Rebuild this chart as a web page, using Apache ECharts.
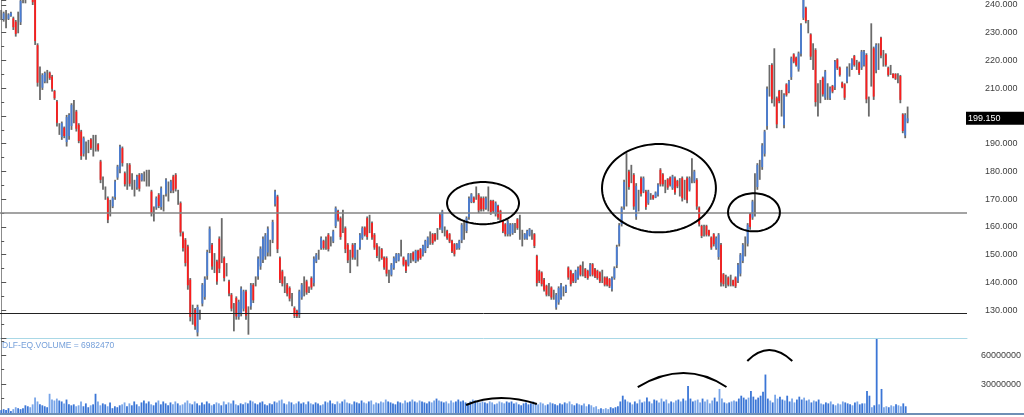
<!DOCTYPE html>
<html><head><meta charset="utf-8">
<script src="https://cdn.jsdelivr.net/npm/echarts@6/dist/echarts.min.js"></script>
<style>html,body{margin:0;padding:0;background:#fff;}#c{width:1024px;height:417px;}</style>
</head><body><div id="c"></div>
<script>
// ---- data (one entry per trading day) ----
const opens = [
236.4,234.8,235,235,236,235.2,234,233.8,233.8,242.8,
242.3,243,246.5,244.5,242,225.5,211.8,210.2,212.4,214.2,
215.6,214.2,209,205.2,195.3,192.4,195.8,190.6,192.8,196.4,
201.6,201.6,196.8,194.4,186.4,187.5,189,191.6,189.3,190.2,189.8,
183.6,175.8,172.2,170.4,166.8,167.4,170.8,177.8,180.8,188.4,
179.4,178.2,182.4,176.4,174,174.2,178.8,176.8,178.2,177.6,
177.6,172.8,164.7,167,171.6,167.2,168.6,172,172.8,173,
178.2,178.8,170.7,168.6,157.8,155.4,153,141,128.4,130.2,122,
128.4,132.4,134.8,142.4,151.8,153.6,147,147.6,155.8,155,148.8,
144.6,140.4,135.6,127.5,134.4,127.6,129,130.6,136.8,126.3,
131.4,139.2,140.4,142.2,145.8,148.2,149.4,150.8,152.4,155.4,
168.2,171,148.8,144,139.2,139.2,138,133.8,130.8,129.8,
128.4,134.6,138.6,140.4,137.4,141.6,139.8,147.6,150,152.4,
155,154.2,157.2,154.8,154.8,160.4,165.8,163.2,162,159.6,
153.6,147.6,153.6,149,148.8,152.6,156,159.8,163.2,161.1,
161.4,157.2,153.6,150.3,152,149,148.8,142.2,142.8,145.2,
147.6,148,152.4,149,147.6,146.4,148.8,150.8,147.6,151.4,
152,150,151.4,153,156,157.4,157.4,157.5,164.4,158.8,
158.4,158.6,157.4,155,153.8,152.2,152.4,155.2,159,158.6,
163.6,169,170.6,172.2,171.6,170.4,170.4,166.8,170.1,169.4,
169.4,164.6,167.6,165.8,162.2,161,157.4,157.4,157.8,159.6,
162.8,159.9,156,155.8,155.8,157,157.2,157.4,149.6,144.2,
143.6,141,138.8,137.4,138.2,135.6,131,132.8,134.6,136.8,136.6,
145.4,144.2,143,140.4,141.6,146,144.9,144.8,144.2,142.8,
146.6,144.8,144.2,143.6,142.2,141.8,141.8,141.2,137.6,141.6,
146.2,154,161,167.4,177,180,179.1,178.8,163.8,169.5,
177.6,172.8,172.8,168.6,171,171.4,170.6,171.6,180.6,179,
174.6,177.2,177.8,174,177.6,176.6,174.3,177.6,173.4,177.6,
173.4,180.3,176.4,177,167,160.4,158.7,160.4,158.8,156.2,
157.4,152.4,149.2,153.6,143,140.4,141.8,140.7,140.8,141.8,
140.6,143.2,147.8,153,154,164.6,163.4,171.6,174.4,180.6,
181.6,186.4,196.4,212.7,218.4,213.9,206.4,209,204.6,
196.8,211.4,208.8,214,222.2,221,216.8,222.4,235.4,239,
232.2,229.4,221.4,223.8,205.8,208.8,213.8,206.6,208.8,206.4,
210.8,210.4,220.4,217.4,212,211.4,212.4,216.6,217,
221.6,218.4,219.2,217.4,218.4,222,203.4,222,224.4,
216.4,221.4,228.2,220.8,222.2,217.4,216.6,215.2,215.2,
213.6,214.4,200.6,193,198];
const highs = [
238.2,237.6,238.2,237,237.6,235.8,234.6,237.6,242.5,245,
244,246,247,245,243,226.2,217.8,215.4,216,216.6,
216,214.8,209.4,205.8,197.4,198,196.2,200.4,201,204.6,
205.8,202.2,197.4,195,192.6,190.8,191.4,192,193.2,193.2,190.2,
184.2,178.2,174.6,171,169.8,171,177,182.4,189.6,189,
180,183,183,179.4,177,178.8,179.4,179.4,180,180.6,
180.6,173.4,167.4,171,172.2,174.6,171.6,177.6,176.4,177,
178.8,179.4,173.4,169.2,158.4,156,153.6,141.6,132,130.8,132,
130.2,139.8,142.2,151.8,160.2,154.2,150.6,148.2,156.6,163.2,149.4,
147,141,136.2,132.6,135,133.8,138.6,137.4,137.4,131.4,
139.8,139.8,142.2,149.4,153,156.6,157.8,160.2,155.4,162.6,
173.4,171.6,149.4,144.6,142.2,139.8,138.6,136.2,131.4,130.2,
137.4,139.8,142.2,141,138.6,142.2,149.4,150.6,151.8,156.6,
155.4,156.6,157.8,156.6,159,167.4,166.2,163.8,166.2,160.2,
154.2,151.8,154.2,154.2,151.8,157.8,160.2,160.2,163.8,164.4,
162,157.8,154.2,153,152.4,149.4,149.4,144.6,147,149.4,
150.6,150.6,155.4,149.4,148.2,150.6,150.6,151.2,151.8,151.8,
152.4,153.6,155.4,156.6,158.4,157.8,157.8,159.6,165,166.2,
160.2,159,157.8,155.4,154.2,154.2,155.4,161.4,162.6,163.8,
171,172.2,171,174.6,172.2,171,171,171,174.6,169.8,
169.8,169.2,168,166.2,162.6,161.4,162.6,161.4,161.4,161.4,
163.2,164.4,159,157.8,159,159.6,159,157.8,150,144.6,
144,141.6,139.2,139.8,138.6,137.4,136.2,138.6,139.8,138.6,139.2,
145.8,144.6,143.4,144.6,145.8,146.4,147.6,145.2,144.6,147,
147,145.2,144.6,144,144.6,142.2,142.2,141.6,142.2,145.8,
153.6,161.4,167.4,177,186.6,180.6,182.4,179.4,175.8,173.4,
178.2,178.2,173.4,173.4,172.2,171.6,172.8,175.8,181.2,179.4,
177,177.6,178.2,178.8,178.2,177,177.6,178.2,177,178.2,
178.2,184.8,180.6,177.6,167.4,160.8,160.8,160.8,159,156.6,
157.8,156.6,157.8,154.2,143.4,142.8,142.2,142.8,141,142.2,
147,150.6,154.2,156.6,161.4,165,169.8,179.4,183,184.2,
190.2,195,210.6,218.4,219,224.4,207,209.4,209.4,
208.2,211.8,213,221.4,222.6,221.4,223.2,233.4,243,239.4,
234.6,229.8,226.2,224.4,211.8,213,214.2,216.6,211.8,210.6,
211.2,220.2,220.8,217.8,212.4,211.8,217.8,219,220.8,
222,220.2,219.6,223.8,223.8,222.6,207,233.4,225,
226.2,226.2,228.6,223.8,222.6,217.8,218.4,215.4,215.4,
215.4,214.8,201,201,203.4];
const lows = [
234.6,234,231.6,234.6,235.8,231,228.6,229.8,232.8,240.6,
240.6,242.5,243,240,225.6,210.6,205.8,209.4,211.8,211.8,
213,208.8,205.8,196.2,193.2,191.4,192,189,191.4,195,
197.4,194.4,190.2,184.2,185.4,184.2,186.6,187.8,185.4,187.2,187.2,
175.8,173.4,169.8,161.4,163.8,166.8,169.8,177,179.4,181.8,
174.6,173.4,174.6,173.4,171,173.4,172.8,176.4,176.4,174.6,
174.6,163.8,162,166.2,166.8,166.2,165.6,171,169.2,172.2,
172.2,172.8,168,156.6,151.2,145.8,137.4,126,124.8,123,120.6,
126.6,131.4,133.8,141,150.6,144.6,143.4,139.2,143.4,147,140.4,
142.2,135,129.6,122.4,126.6,126.6,127.8,129.6,126.6,121.2,
130.2,132.6,138.6,141,144.6,147,148.2,149.4,149.4,154.2,
167.4,150.6,139.8,138.6,136.2,135,133.2,131.4,127.2,127.2,
127.2,133.8,135,135.6,136.2,137.4,138.6,147,148.2,151.8,
151.8,151.8,151.2,153,154.2,159.6,162,155.4,157.8,150.6,
147,143.4,148.2,148.2,145.8,151.8,155.4,156.6,155.4,157.8,
155.4,151.8,148.8,147.6,148.2,144.6,142.2,139.8,142.2,144.6,
147,147.6,149.4,145.8,143.4,145.8,147,147.6,147,147.6,
148.2,149.4,150.6,152.4,153.6,153.6,154.8,155.4,159,157.8,
156.6,155.4,154.2,150.6,149.4,151.8,151.8,154.2,155.4,157.8,
162.6,168.6,168.6,169.8,165,165.6,165.6,166.2,165.6,164.4,
165,163.8,162.6,162,157.8,156.6,156.6,156.6,157.2,157.8,
159,155.4,153,155.4,155.4,156.6,155.4,152.4,138.6,139.8,
138.6,136.8,135,135,133.8,133.8,130.2,132,133.8,135,136.2,
141,138.6,139.8,139.8,141,142.2,142.2,141.6,141,142.2,
142.2,141.6,141,139.8,139.8,138.6,138.6,138,136.8,141,
145.2,153,160.2,166.2,167.4,173.4,175.8,166.2,162.6,165.6,
171,172.2,166.2,168,169.8,169.8,170.4,171,174.6,174.6,
172.2,173.4,174.6,173.4,171.6,174,171,169.2,169.8,168.6,
172.8,175.8,175.8,166.2,160.2,156,156.6,156.6,156.6,151.8,
153,151.8,148.2,138.6,138.6,138,138.6,138.6,138.6,138,
139.8,142.2,147,149.4,153,159,162.6,163.8,173.4,177,
180.6,185.4,195,207,204.6,203.4,195.6,204.6,199.8,
195.6,207,208.2,213,219,217.8,216,221.4,234.6,233.4,
229.8,220.2,216.6,203.4,199.8,204.6,207,205.8,205.8,205.8,
208.2,209.4,216.6,214.2,210,205.8,211.8,214.2,216.6,
217.8,216.6,214.8,216.6,217.8,204.6,199.8,210.6,205.8,
215.4,216.6,220.8,217.8,217.8,214.2,214.8,213.6,213,
211.8,204.6,193.8,192,197.4];
const closes = [
236.4,237,235,236.6,237.2,232,229.6,233.8,241.5,242.8,
242.3,245.5,243.8,241,227,212,211.8,214.8,215.5,214.2,
213.6,209.8,206.4,197.6,195.3,197.4,192.8,199.6,200.4,204,
201.6,195.4,191,185.6,192,187.5,189,188.4,189.3,190.2,187.8,
177,175.8,172.2,162.6,166.8,170.4,176.4,181.8,189,183,
175.4,178.2,175.6,176.4,174,178.2,173.8,179,178.2,177.6,
177.6,165,164.7,170.4,167.6,174,168.6,177,172.8,176.4,
173.2,173.8,170.7,158,152.4,147,139,127.6,128.4,124.2,131.2,
128.4,139.2,141.4,151,159.4,145.8,147,140.4,145,155,141.6,
144.6,136,130.6,127.5,127.8,133,137.8,136.8,128,126.3,
139,133.6,140.4,148.6,152.2,155.8,157,159.4,152.4,161.8,
172.8,152,141,139.6,139.2,136,134.2,133.8,128,127.8,
136.8,139.2,138.6,136.4,137.4,138.2,148.6,150,150,156,
152.4,154.2,152,154.8,158.4,166.8,162.6,156.4,162,152,
148,147.6,149,153.6,148.8,157.2,159.6,157.2,156.4,161.1,
156.2,152.6,149.6,150.3,148.8,145.4,143.2,142.2,146.4,148.8,
150.2,150.2,152.4,146.4,144.2,150.2,148.8,148.2,151.4,148.2,
148.8,153.2,155,156.2,156,154.2,155.2,157.5,159.8,165.6,
158.4,156,154.8,151.2,150.2,153.8,155,160.8,159,163.2,
170.4,171.8,169,172.2,166,166.4,166.4,170.4,170.1,165.2,
165.8,168.6,163.4,162.6,158.4,157.4,162,160.8,161,159.6,
159.6,159.9,156,157.4,158.6,159.2,157.2,153.2,139.8,140.6,
139.4,137.4,135.6,137.4,134.6,135.6,135.6,138,139.2,136.8,138.8,
141.8,139.4,140.4,144,145.2,142.8,144.9,142.2,141.6,146.4,
142.8,142.2,141.6,140.4,142.2,139.2,139.2,138.6,141.6,145.2,
152.8,160.6,166.8,176.2,177,174.4,179.1,167.4,174.8,169.5,
172,177.6,167.2,172.8,171,170.2,172.4,175.2,175.4,175.4,
174.6,174.2,175.2,178.2,172.4,174.6,174.3,170.4,173.4,169.6,
177.6,180.3,180,167.4,161,156.8,158.7,157.2,157,152.6,
153.8,156,157.2,140,139.4,140.4,139.2,140.7,139,138.6,
146.4,150,153.6,153,160.8,160,169.2,171.6,182.4,180.6,
189.4,194.4,209.8,212.7,206,213.9,197,205.4,204.6,
207.6,207.6,212.6,220.8,219.6,218.4,222.6,232.8,241.8,234.2,
232.2,221.4,221.4,205,205.8,208.8,207.8,216,208.8,210,
208.8,219.6,217.2,214.8,210.4,206.6,217.2,216.6,220.4,
218.4,218.4,215.4,223.2,223.2,206,203.4,222,207,
225.6,221.4,221.8,220.8,218.4,214.8,216.6,213.8,213.4,
213.6,205.8,194.6,200.4,199.15];
// volume in millions of shares
const volumes = [
3,4,3,5,2,4,6,5,4,5, 8,7,6,9,16,12,9,8,7,6,
20,14,13,15,13,12,10,14,9,8, 9,7,8,12,7,10,6,8,9,20,
12,8,10,9,7,11,5,7,6,8, 9,11,7,10,8,12,9,7,11,13,
10,12,9,8,11,13,9,12,10,8, 11,9,12,10,8,9,11,13,10,9,
12,10,8,11,9,12,10,8,9,11, 10,8,12,9,11,10,13,9,8,10,
9,11,10,13,12,10,9,11,12,9, 8,10,9,12,11,13,14,10,9,12,
11,9,10,12,10,11,9,12,10,9, 11,10,8,9,12,11,13,10,9,12,
10,12,14,11,10,9,12,11,10,13, 11,10,12,13,9,11,10,12,11,14,
12,11,10,9,12,11,10,13,11,12, 14,12,11,13,12,11,10,12,11,13,
15,13,12,11,12,10,13,11,12,14, 12,13,11,10,12,14,13,12,11,12,
11,10,12,11,9,10,12,11,10,12, 11,12,10,11,9,8,10,11,9,10,
12,10,9,11,10,8,9,11,10,9, 8,10,9,11,10,12,9,8,10,9,
8,10,7,9,8,6,7,4,5,4, 5,4,6,5,6,7,12,18,14,12,
11,9,12,10,14,11,12,16,12,10, 14,13,11,15,12,14,10,12,11,13,
14,12,15,13,28,15,12,13,14,11, 15,12,14,10,13,16,12,25,15,11,
10,11,12,13,12,15,18,16,14,16, 23,17,14,16,18,22,40,15,13,11,
19,15,17,14,13,18,12,15,11,14, 17,14,16,13,14,11,13,12,14,10,
9,11,10,12,9,8,10,9,12,11, 10,9,8,11,12,9,10,10,23,18,
6,8,77,9,25,6,7,6,8,7, 9,8,7,10,6.98247];
const levels = [165, 129];            // horizontal support / resistance
const priceTicks = {min: 120, max: 241.8, step: 10};
const volumeTicks = {min: 0, max: 78, step: 30};
const slots = 399;                     // day slots across the chart width
// annotations, in data units (day index, price / volume in millions)
const ellipses = [
  {i: 198.8, p: 168.6, di: 14.85, dp: 7.6},
  {i: 271.4, p: 174.0, di: 23.5, dp: 15.9},
  {i: 310.6, p: 165.3, di: 10.7, dp: 6.85}
];
const arcs = [
  {a: [192.2, 8.3], m: [206.2, 15.6], b: [221.5, 9.4]},
  {a: [263.2, 27], m: [282.1, 41.6], b: [299.9, 27]},
  {a: [308.5, 54.1], m: [317.6, 65.5], b: [327.1, 54.1]}
];

// ---- chart ----
const UP = '#4a7dd4', DOWN = '#fb1d1d', WICK = '#6a6a6a';
const VOL_UP = '#3b76d6', VOL_DN = '#78a5e8';
const FONT = 'Liberation Sans, Arial, sans-serif';
const chart = echarts.init(document.getElementById('c'));
const ohlc = opens.map((o, i) => [i, o, highs[i], lows[i], closes[i]]);
const vol = volumes.map((v, i) => [i, v]);

const axisCommon = {
  position: 'right',
  axisLine: {show: true, lineStyle: {color: '#8c8c8c', width: 1}},
  axisTick: {show: true, length: 5, lineStyle: {color: '#555'}},
  minorTick: {show: true, splitNumber: 2, length: 3, lineStyle: {color: '#555'}},
  splitLine: {show: false}
};

chart.setOption({
  animation: false,
  backgroundColor: '#fff',
  grid: [
    {left: 0, right: 57, top: 0, height: 338},
    {left: 0, right: 57, top: 338, height: 75}
  ],
  xAxis: [
    {type: 'value', gridIndex: 0, min: -0.5, max: slots - 0.5,
     axisLine: {show: true, onZero: false, lineStyle: {color: '#a9d8e6', width: 1}},
     axisTick: {show: false}, axisLabel: {show: false}, splitLine: {show: false}},
    {type: 'value', gridIndex: 1, min: -0.5, max: slots - 0.5,
     axisLine: {show: false}, axisTick: {show: false}, axisLabel: {show: false}, splitLine: {show: false}}
  ],
  yAxis: [
    Object.assign({}, axisCommon, {
      type: 'value', gridIndex: 0, min: priceTicks.min, max: priceTicks.max, interval: priceTicks.step,
      axisLabel: {showMinLabel: false, showMaxLabel: false, margin: 18, color: '#404040',
                  fontSize: 9, fontFamily: FONT, formatter: v => v.toFixed(3)}
    }),
    Object.assign({}, axisCommon, {
      type: 'value', gridIndex: 1, min: volumeTicks.min, max: volumeTicks.max, interval: volumeTicks.step,
      axisLabel: {showMinLabel: false, showMaxLabel: false, margin: 16, color: '#404040',
                  fontSize: 9, fontFamily: FONT, formatter: v => String(Math.round(v * 1e6))}
    })
  ],
  series: [
    {
      type: 'custom', xAxisIndex: 0, yAxisIndex: 0, data: ohlc, silent: true,
      renderItem: (params, api) => {
        const i = api.value(0), o = api.value(1), h = api.value(2), l = api.value(3), c = api.value(4);
        const pt = api.coord([i, h]), pb = api.coord([i, l]);
        const po = api.coord([i, o]), pc = api.coord([i, c]);
        const w = 1.8, x = pt[0];
        const kids = [{type: 'rect', shape: {x: x - w / 2, y: pt[1], width: w, height: pb[1] - pt[1]},
                       style: {fill: WICK}}];
        if (o !== c) {
          kids.push({type: 'rect', shape: {x: x - w / 2, y: Math.min(po[1], pc[1]), width: w,
                     height: Math.abs(po[1] - pc[1])}, style: {fill: c > o ? UP : DOWN}});
        }
        return {type: 'group', children: kids};
      }
    },
    {
      type: 'line', xAxisIndex: 0, yAxisIndex: 0, silent: true, symbol: 'none',
      data: ohlc.map(d => [d[0], d[4]]), lineStyle: {opacity: 0},
      markLine: {
        silent: true, symbol: 'none', label: {show: false},
        data: [
          {yAxis: levels[0], lineStyle: {color: '#858585', width: 1.6, type: 'solid'}},
          {yAxis: levels[1], lineStyle: {color: '#222', width: 1, type: 'solid'}}
        ]
      }
    },
    {
      type: 'bar', xAxisIndex: 1, yAxisIndex: 1, data: vol, barWidth: 1.8, silent: true,
      itemStyle: {color: p => closes[p.dataIndex] >= opens[p.dataIndex] ? VOL_UP : VOL_DN}
    }
  ]
});

// ---- annotations and last-price box ----
const toP = v => chart.convertToPixel({xAxisIndex: 0, yAxisIndex: 0}, v);
const toV = v => chart.convertToPixel({xAxisIndex: 1, yAxisIndex: 1}, v);
const g = [];
ellipses.forEach(e => {
  const c = toP([e.i, e.p]), r = toP([e.i + e.di, e.p + e.dp]);
  const rx = Math.abs(r[0] - c[0]), ry = Math.abs(r[1] - c[1]);
  const pts = [];
  for (let k = 0; k < 96; k++) {
    const t = k / 96 * Math.PI * 2;
    pts.push([c[0] + rx * Math.cos(t), c[1] + ry * Math.sin(t)]);
  }
  g.push({type: 'polygon', shape: {points: pts}, style: {fill: null, stroke: '#000', lineWidth: 2}, z: 100, silent: true});
});
arcs.forEach(a => {
  const p1 = toV(a.a), pm = toV(a.m), p2 = toV(a.b);
  const cx = 2 * pm[0] - (p1[0] + p2[0]) / 2, cy = 2 * pm[1] - (p1[1] + p2[1]) / 2;
  g.push({type: 'bezierCurve', shape: {x1: p1[0], y1: p1[1], x2: p2[0], y2: p2[1], cpx1: cx, cpy1: cy},
          style: {fill: null, stroke: '#000', lineWidth: 2}, z: 100, silent: true});
});
const last = closes[closes.length - 1];
const yl = toP([0, last])[1];
const gridRight = toP([slots - 0.5, last])[0];
g.push({type: 'rect', shape: {x: gridRight - 1, y: yl - 6.5, width: 1024 - gridRight + 1, height: 13},
        style: {fill: '#000'}, z: 100, silent: true});
g.push({type: 'text', x: gridRight + 1, y: yl, style: {text: last.toFixed(3), fill: '#fff', font: '9px ' + FONT,
        verticalAlign: 'middle', align: 'left'}, z: 101, silent: true});
g.push({type: 'text', x: 2, y: 341, style: {text: 'DLF-EQ.VOLUME = ' + Math.round(volumes[volumes.length - 1] * 1e6),
        fill: '#76a0da', font: '8.5px ' + FONT, verticalAlign: 'top', align: 'left'}, z: 100, silent: true});
const yb = toV([0, 0])[1];
g.push({type: 'line', shape: {x1: 0, y1: yb + 1, x2: 1024, y2: yb + 1}, style: {stroke: '#6f8fb5', lineWidth: 2}, z: 100, silent: true});
chart.setOption({graphic: g});
</script>
</body></html>
